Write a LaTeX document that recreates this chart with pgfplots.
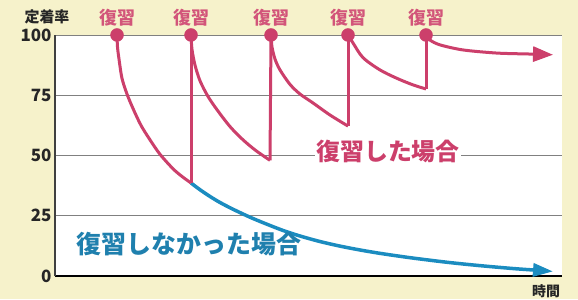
\documentclass[border=0pt]{standalone}
\usepackage{fontspec}
\setmainfont{Noto Sans CJK JP}
\usepackage{pgfplots}
\pgfplotsset{compat=1.18}
\usetikzlibrary{arrows.meta}
\definecolor{cream}{HTML}{F6F2CB}
\definecolor{revred}{HTML}{CC3F6B}
\definecolor{labred}{HTML}{D2557A}
\definecolor{fblue}{HTML}{1B8CC0}
\definecolor{fbluetext}{HTML}{1F80AE}
\begin{document}
\begin{tikzpicture}[x=1bp,y=1bp]
\fill[cream] (0,0) rectangle (578,299);
\useasboundingbox (0,0) rectangle (578,299);
\begin{axis}[
  at={(55bp,23bp)}, anchor=south west,
  scale only axis, width=507bp, height=241bp,
  xmin=55, xmax=562, ymin=0, ymax=100,
  clip=false,
  axis background/.style={fill=white},
  axis x line=bottom, axis y line=left,
  x axis line style={-, black, line width=2bp},
  y axis line style={-, black!75, line width=1.4bp},
  xtick=\empty,
  ytick={0,25,50,75,100},
  major tick length=0pt,
  ymajorgrids,
  grid style={black!50, line width=0.7bp},
  /pgf/number format/assume math mode=true,
  yticklabel style={font=\fontsize{17}{17}\selectfont\bfseries, text=black!85},
]
% forgetting curve without review (blue)
\addplot[fblue, line width=3.5bp, smooth, tension=0.5, -{Triangle[length=20bp,width=13bp]}] coordinates {
 (191,38.6) (200,35.8) (210,33) (220,30.5) (233,27.7) (250,24.4) (265,21.8) (283,18.9) (300,16.6)
 (320,14.3) (340,12.4) (360,10.8) (380,9.4) (410,7.6) (447,5.7) (480,4.3) (513,3.1) (540,2.3) (553,1.9)};
% with review (red)
\addplot[revred, line width=3bp, smooth, tension=0.5] coordinates {
 (117,100) (117.5,95) (119,90) (122,82) (127,75.5) (133,69.5) (141,62.5) (150,56.5) (160,50.5) (173,44.5) (182,41.3) (191,38.6)};
\addplot[revred, line width=3bp] coordinates {(191,38.6) (191,100)};
\addplot[revred, line width=3bp, smooth, tension=0.5] coordinates {
 (191,100) (192,94) (195,87.5) (200,81) (208,74.5) (217,69) (230,62) (243,56.5) (256,52) (270,48)};
\addplot[revred, line width=3bp] coordinates {(270,48) (271,100)};
\addplot[revred, line width=3bp, smooth, tension=0.5] coordinates {
 (271,100) (272,95) (275,90) (280,85.5) (290,79.5) (300,75.5) (313,71.8) (330,66.8) (348,62.2)};
\addplot[revred, line width=3bp] coordinates {(348,62.2) (348,100)};
\addplot[revred, line width=3bp, smooth, tension=0.5] coordinates {
 (348,100) (353,96.7) (363,90.6) (380,85.5) (397,82) (413,79.3) (426,77.6)};
\addplot[revred, line width=3bp] coordinates {(426,77.6) (426,100)};
\addplot[revred, line width=3bp, smooth, tension=0.5, -{Triangle[length=20bp,width=15bp]}] coordinates {
 (426,100) (430,97.9) (440,95.9) (463,93.8) (497,92.5) (530,92.1) (553,91.8)};
% review points
\addplot[only marks, mark=*, mark size=6.5bp, revred] coordinates {
 (117,100) (191,100) (271,100) (348,100) (426,100)};
% labels
\foreach \xx in {117,191,271,348,426}{
  \edef\tmp{\noexpand\node[labred, font=\noexpand\fontsize{18}{18}\noexpand\selectfont\noexpand\bfseries] at (axis cs:\xx,100) [yshift=17bp] {復習};}
  \tmp
}
\end{axis}
\node[font=\fontsize{15}{15}\selectfont\bfseries, text=black!85] at (47bp,282bp) {定着率};
\node[font=\fontsize{14}{14}\selectfont\bfseries, text=black!85] at (546bp,8bp) {時間};
\node[font=\fontsize{24}{24}\selectfont\bfseries, text=revred, fill=white, inner sep=1bp] at (388bp,148bp) {復習した場合};
\node[font=\fontsize{25}{25}\selectfont\bfseries, text=fbluetext] at (189bp,55bp) {復習しなかった場合};
\end{tikzpicture}
\end{document}
